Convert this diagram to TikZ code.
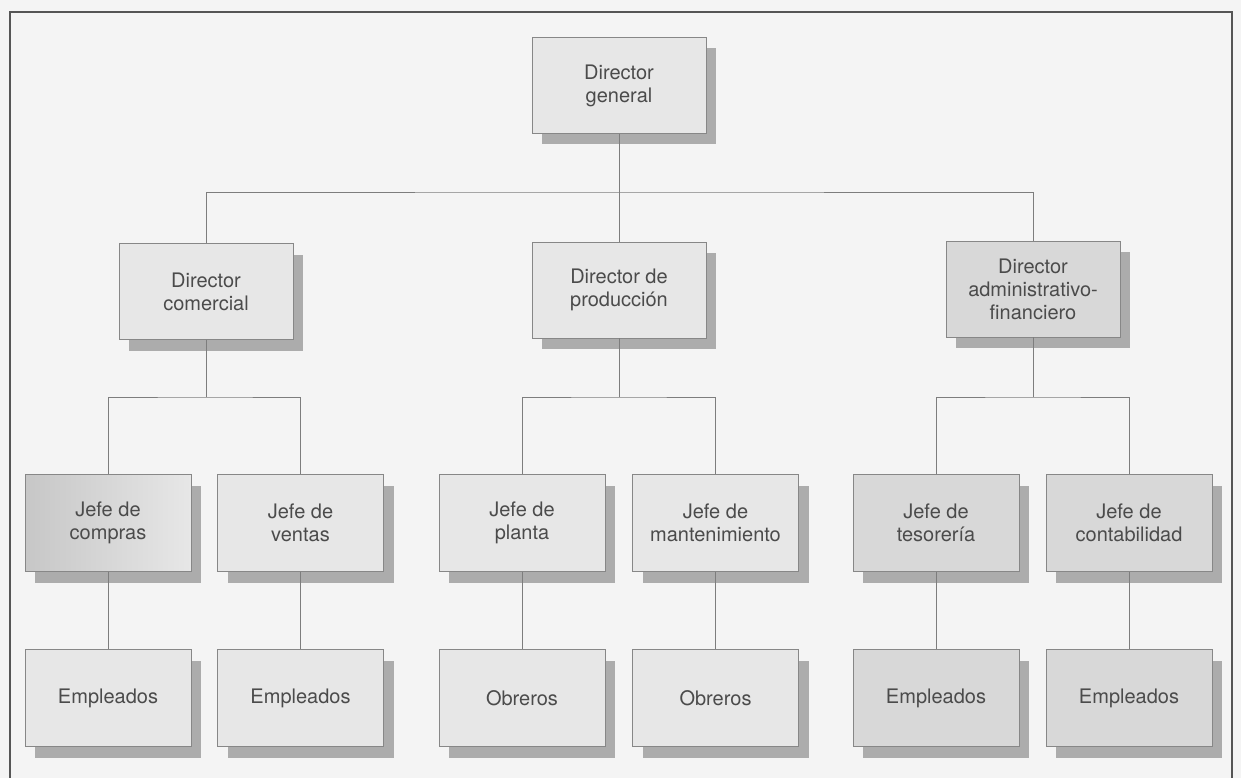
\documentclass[tikz,border=0pt]{standalone}
\usepackage{fontspec}
\setmainfont{TeX Gyre Heros}
\usetikzlibrary{shadows}
\definecolor{paper}{RGB}{244,244,244}
\definecolor{boxlight}{RGB}{231,231,231}
\definecolor{boxdark}{RGB}{216,216,216}
\definecolor{boxedge}{RGB}{135,135,135}
\definecolor{shadowgray}{RGB}{172,172,172}
\definecolor{linkgray}{RGB}{125,125,125}
\definecolor{framegray}{RGB}{85,85,85}
\definecolor{inkgray}{RGB}{75,75,75}
\tikzset{
  unit/.style={draw=boxedge, line width=0.8pt, fill=boxlight,
    align=center, inner sep=0pt, text=inkgray,
    font=\fontsize{20}{23}\selectfont,
    general shadow={shadow xshift=10pt, shadow yshift=-11pt, fill=shadowgray, draw=none}},
  topunit/.style={unit, minimum width=174pt, minimum height=96pt},
  lowunit/.style={unit, minimum width=166pt, minimum height=97pt},
  darker/.style={fill=boxdark},
  link/.style={draw=linkgray, line width=0.9pt}
}
\begin{document}
\begin{tikzpicture}[x=1pt, y=-1pt]
  % page and frame
  \fill[paper] (0,0) rectangle (1241,778);
  \useasboundingbox (0,0) rectangle (1241,778);
  \draw[framegray, line width=1.6pt] (10,778) -- (10,12) -- (1232,12) -- (1232,778);

  % boxes
  \node[topunit] (dg) at (619,85.5) {Director\\general};
  \node[topunit] (dc) at (206,291.5) {Director\\comercial};
  \node[topunit] (dp) at (619,290) {Director de\\producción};
  \node[topunit, darker] (da) at (1033,289) {Director\\administrativo-\\financiero};

  \node[lowunit, left color=boxdark!92!black, right color=boxlight] (jc) at (108,523) {Jefe de\\compras};
  \node[lowunit] (jv) at (300.5,523) {Jefe de\\ventas};
  \node[lowunit] (jp) at (522,523) {Jefe de\\planta};
  \node[lowunit] (jm) at (715.5,523) {Jefe de\\mantenimiento};
  \node[lowunit, darker] (jt) at (936,523) {Jefe de\\tesorería};
  \node[lowunit, darker] (jk) at (1129,523) {Jefe de\\contabilidad};

  \node[lowunit] (e1) at (108,698) {Empleados};
  \node[lowunit] (e2) at (300.5,698) {Empleados};
  \node[lowunit] (o1) at (522,698) {Obreros};
  \node[lowunit] (o2) at (715.5,698) {Obreros};
  \node[lowunit, darker] (e3) at (936,698) {Empleados};
  \node[lowunit, darker] (e4) at (1129,698) {Empleados};

  % branch points of the connectors
  \coordinate (b0) at (619,192);
  \coordinate (b1) at (206,397);
  \coordinate (b2) at (619,397);
  \coordinate (b3) at (1033,397);

  % connectors
  \draw[link] (dg.south) -- (b0);
  \draw[link] (dc.north) |- (b0) -| (da.north);
  \draw[link] (dp.north) -- (b0);
  \draw[link] (dc.south) -- (b1);
  \draw[link] (dp.south) -- (b2);
  \draw[link] (da.south) -- (b3);
  \draw[link] (jc.north) |- (b1) -| (jv.north);
  \draw[link] (jp.north) |- (b2) -| (jm.north);
  \draw[link] (jt.north) |- (b3) -| (jk.north);
  \draw[link] (jc.south) -- (e1.north);
  \draw[link] (jv.south) -- (e2.north);
  \draw[link] (jp.south) -- (o1.north);
  \draw[link] (jm.south) -- (o2.north);
  \draw[link] (jt.south) -- (e3.north);
  \draw[link] (jk.south) -- (e4.north);
\end{tikzpicture}
\end{document}
